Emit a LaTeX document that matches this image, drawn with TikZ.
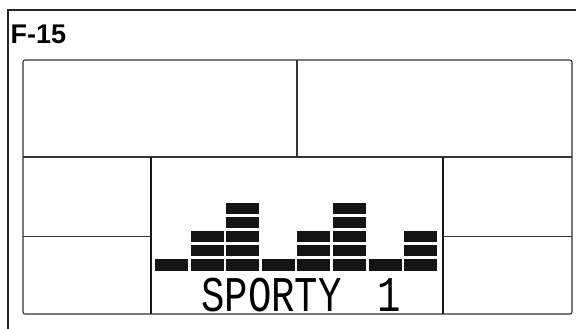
\documentclass[tikz,border=0pt]{standalone}
\usepackage{fontspec}
\newfontfamily\titlefont{Liberation Sans}
\newfontfamily\lcdfont{Liberation Mono}

\begin{document}
\begin{tikzpicture}[
    x=1pt, y=-1pt,
    frame/.style={line width=1.6pt, black!85},
    panel/.style={line width=1.1pt, black!80},
    window/.style={line width=2pt, black!90},
    bar/.style={fill=black!92, draw=none}
]
    \useasboundingbox (0,0) rectangle (576,329);

    % Marco exterior y título
    \draw[frame] (8,329) -- (8,10) -- (576,10);
    \node[anchor=base west, inner sep=0pt, font=\titlefont\bfseries\fontsize{27}{28}\selectfont] (titulo) at (10.5,44) {F-15};

    % Panel de la consola
    \draw[panel, rounded corners=2pt] (23,60) rectangle (572,314);
    \draw[panel] (23,157) -- (572,157);
    \draw[panel] (297,60) -- (297,157);
    \draw[panel] (23,236.5) -- (151,236.5);
    \draw[panel] (443,236.5) -- (572,236.5);
    \draw[window] (151,157) -- (151,314);
    \draw[window] (443,157) -- (443,314);

    % Barras del perfil (altura de cada columna)
    \foreach \h [count=\i from 0] in {1,3,5,1,3,5,1,3} {
        \foreach \k in {1,...,\h} {
            \pgfmathsetmacro\hh{\k==1 ? 12.2 : 11}
            \fill[bar] ({155+35.6*\i},{258.5-13.8*(\k-1)}) rectangle ++(33,\hh);
        }
    }

    % Texto del modo
    \node[anchor=base west, inner sep=0pt, font=\lcdfont\fontsize{39}{39}\selectfont] (modo) at (201,311) {\scalebox{1}[1.28]{SPORTY\hspace{36pt}1}};

\end{tikzpicture}
\end{document}
